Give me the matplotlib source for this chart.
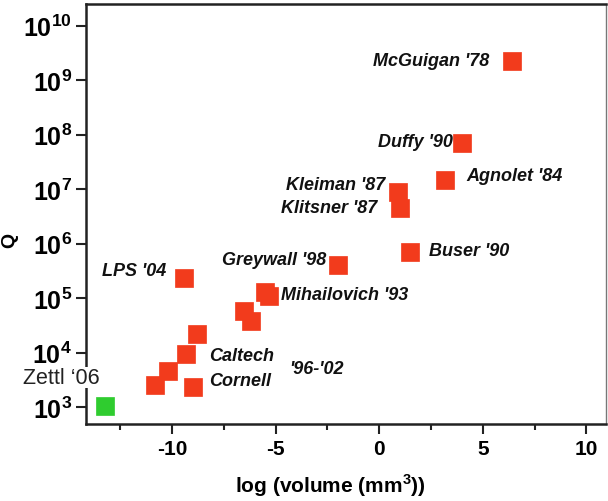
import matplotlib
matplotlib.use("Agg")
import matplotlib.pyplot as plt

# ---------------------------------------------------------------------------
# Donnees : log(volume en mm^3) et facteur de qualite Q
# ---------------------------------------------------------------------------
log_volume = [6.4, 4.0, 3.2, 0.9, 1.0, 1.5, -2.0, -9.4, -5.5, -5.3,
              -6.5, -6.2, -8.8, -9.3, -10.2, -10.8, -9.0]
q_factor = [2.3e9, 7.0e7, 1.5e7, 9.0e6, 4.5e6, 7.0e5, 4.0e5, 2.3e5, 1.3e5, 1.1e5,
            5.8e4, 3.8e4, 2.2e4, 9.3e3, 4.6e3, 2.6e3, 2.3e3]

zettl_volume = [-13.25]
zettl_q = [1.05e3]

# etiquettes : texte, x, Q, alignement horizontal
labels = ["McGuigan '78", "Duffy '90", "Agnolet '84", "Kleiman '87", "Klitsner '87",
          "Buser '90", "Greywall '98", "LPS '04", "Mihailovich '93",
          "Caltech", "Cornell", "'96-'02"]
label_x = [5.3, 3.55, 4.2, 0.3, -0.1, 2.4, -2.55, -10.3, -4.75, -8.2, -8.2, -4.35]
label_q = [10**9.36, 10**7.88, 10**7.25, 10**7.09, 10**6.67, 10**5.88, 10**5.71,
           10**5.51, 10**5.07, 10**3.94, 10**3.48, 10**3.70]
label_ha = ["right", "right", "left", "right", "right", "left", "right", "right",
            "left", "left", "left", "left"]

xticks = [-10, -5, 0, 5, 10]
yticks = [1e3, 1e4, 1e5, 1e6, 1e7, 1e8, 1e9, 1e10]

plt.rcParams['font.family'] = ['Liberation Sans', 'DejaVu Sans']
plt.rcParams['mathtext.fontset'] = 'custom'
plt.rcParams['mathtext.rm'] = 'Liberation Sans:bold'
plt.rcParams['mathtext.bf'] = 'Liberation Sans:bold'

red = '#f23b1c'
green = '#2fcc2f'

fig = plt.figure(figsize=(6.08, 5.02), dpi=100)
ax = fig.add_axes([86/608, 1-425/502, (606-86)/608, (425-5)/502])

ax.plot(log_volume, q_factor, ls='none', marker='s', ms=13.5,
        mfc=red, mec=red, mew=0.5)
ax.plot(zettl_volume, zettl_q, ls='none', marker='s', ms=13.5,
        mfc=green, mec=green, mew=0.5)

ax.set_yscale('log')
ax.set_xlim(-14.15, 10.95)
ax.set_ylim(10**2.69, 10**10.4)

ax.set_xticks(xticks)
ax.set_xticklabels([str(v) for v in xticks], fontsize=15, fontweight='bold')
ax.set_xticks([-12.5, -7.5, -2.5, 2.5, 7.5], minor=True)
ax.set_yticks(yticks)
ax.set_yticklabels([r'$\mathbf{10^{%d}}$' % e for e in range(3, 11)], fontsize=18)
ax.yaxis.set_minor_locator(matplotlib.ticker.NullLocator())

ax.tick_params(axis='both', which='major', direction='out', length=7, width=1.5,
               color='#222222')
ax.tick_params(axis='x', which='minor', direction='out', length=4, width=1.5,
               color='#222222')
ax.tick_params(axis='x', pad=4)
ax.tick_params(axis='y', pad=3)

for side in ['left', 'bottom', 'top']:
    ax.spines[side].set_linewidth(1.8)
    ax.spines[side].set_color('#222222')
ax.spines['right'].set_linewidth(1.0)
ax.spines['right'].set_color('#777777')

ax.set_xlabel(r'log (volume (mm$^{\mathbf{3}}$))', fontsize=15, fontweight='bold')
ax.xaxis.set_label_coords(0.47, -0.112)
ax.set_ylabel('Q', fontsize=14, fontweight='bold')
ax.yaxis.set_label_coords(-0.13, 0.44)

for txt, tx, tq, ha in zip(labels, label_x, label_q, label_ha):
    ax.text(tx, tq, txt, ha=ha, va='center', fontsize=13,
            fontweight='bold', fontstyle='italic', color='#111111')

ax.text(-17.2, 10**3.54, 'Zettl \u201806', ha='left', va='center', fontsize=15.5,
        color='#222222', clip_on=False,
        bbox=dict(facecolor='white', edgecolor='none', pad=0.0))

fig.savefig('out.png', dpi=100)
